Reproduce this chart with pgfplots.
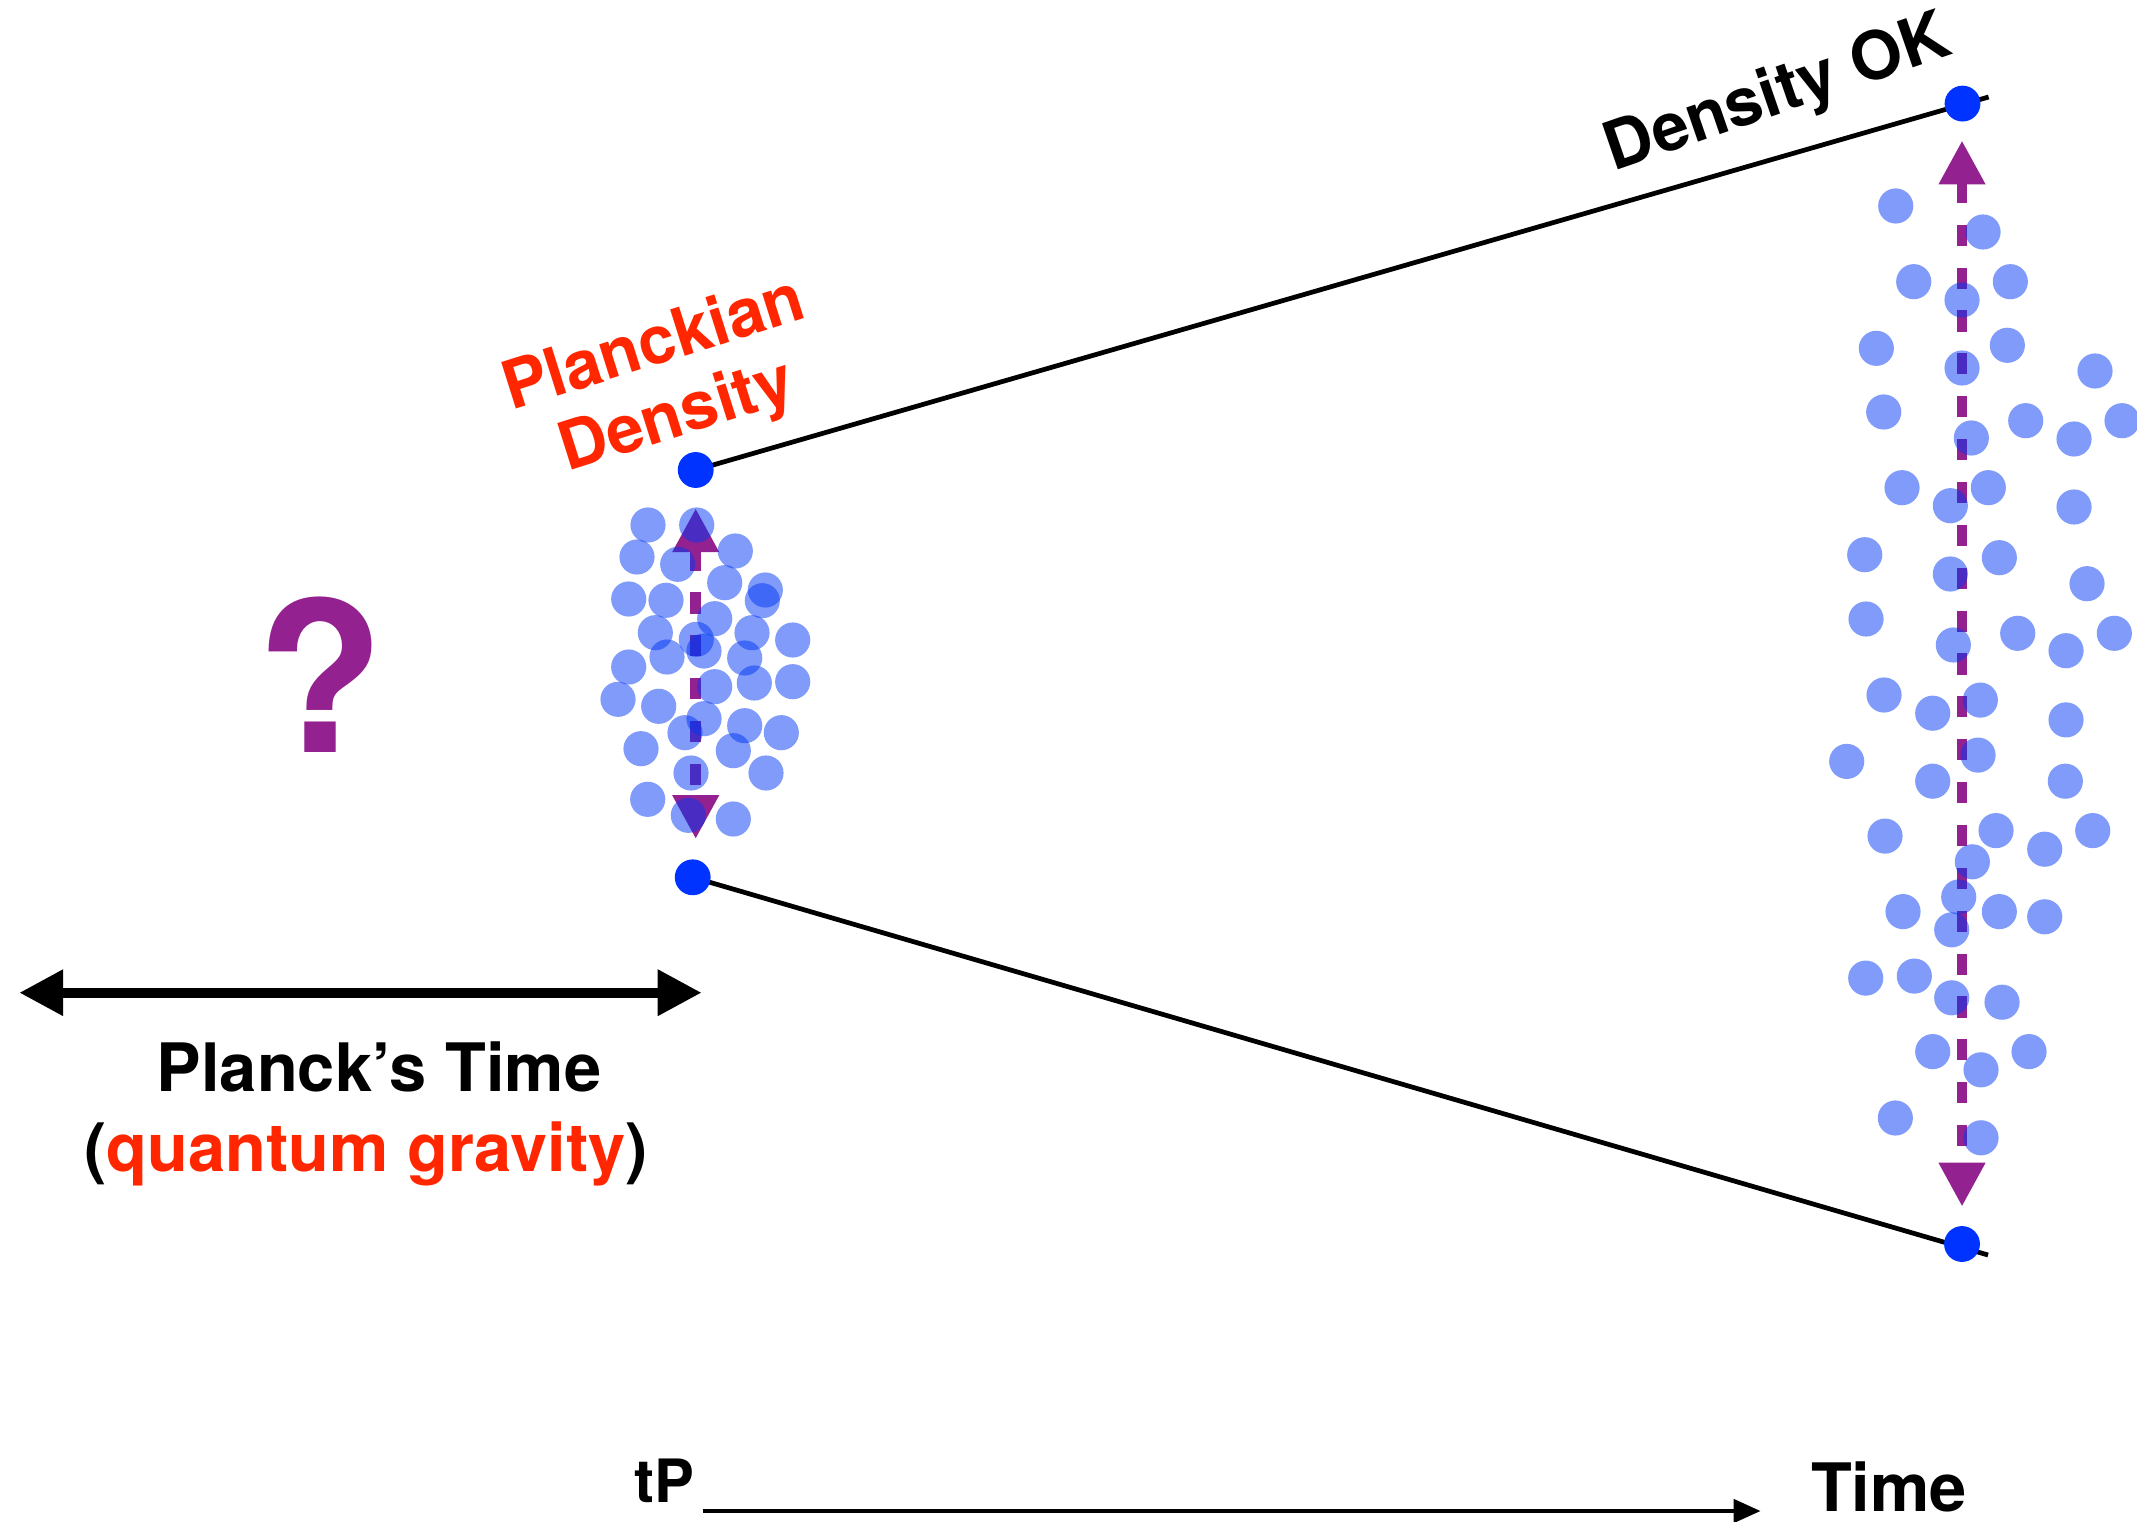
\documentclass[border=0pt]{standalone}
\usepackage{pgfplots}
\pgfplotsset{compat=1.18}
\usepackage{pgfplotstable}
\usepackage{fontspec}
\setmainfont{TeX Gyre Heros}
\usetikzlibrary{arrows.meta}
\definecolor{dotblue}{RGB}{0,51,255}
\definecolor{lightblue}{RGB}{1,55,245}
\definecolor{purp}{RGB}{147,33,143}
\definecolor{redt}{RGB}{255,38,0}

\pgfplotstableread{
x y
648 525
696.7 525
637 557
677.7 564.3
735.3 551
724.7 582.7
765.3 590
762.3 600.7
628.7 599
666 600.3
714.7 618.7
655.3 632.7
696.3 639.3
752 632.7
792.7 640
704 651
667 657
744.7 658
628.7 667
714.7 686.7
754.3 683
792.7 681.7
618 699.3
658.7 706.3
704 718.7
685 732.7
744.7 725.7
781.3 732.7
641 748.7
733.3 750.7
691 773
766 773
647.7 799.3
688.3 815.3
733.3 819
}\smallcluster

\pgfplotstableread{
x y
1895.7 206
1983 232
1913.7 281.7
2010.3 281.7
1962 300
1876.3 348.3
2007.3 345.3
1962 368
2095 371
1883.7 412
2025.7 420.7
1971.3 438
2074 439
2122 420.7
1902 487.7
1988.3 487.7
1950.3 505.7
2074 507
1864.7 554.7
1999.3 557.7
1950.3 574
2087 583.7
1866 619
1953.3 645
2017.7 633.3
2066 650.7
2114.3 633.3
1884 695
1932.7 713.2
1980.3 700.1
2066 719.9
1846.7 761.4
1978 755.1
1932.7 781.2
2065.3 781.2
1885 836.1
1996 830.6
2044.7 849.2
2092.7 830.6
1972.3 861.8
1958.7 897
1903 911.6
1999.3 911.6
2044.7 916.8
1951.7 929.8
1865.7 978.1
1914.3 976.1
1951.7 997.8
2002 1002.2
1932.7 1051.6
2029 1051.6
1981 1069.8
1895.3 1118
1981 1137.8
}\largecluster

\pgfplotstableread{
x y
695.7 470
692.7 877.3
1962.5 103.6
1962 1244
}\bigdots

\begin{document}
\begin{tikzpicture}
\begin{axis}[
  width=21.37cm, height=15.22cm, scale only axis,
  xmin=0, xmax=2137, ymin=0, ymax=1522, y dir=reverse,
  hide axis, clip=true, clip marker paths=true,
]
\path (axis cs:0,0) rectangle (axis cs:2137,1522);
% cone lines
\addplot[black, line width=1.35pt] coordinates {(695.7,470) (1988.6,97)};
\addplot[black, line width=1.35pt] coordinates {(692.7,877.3) (1988,1255)};
% purple dashed arrows (under dots)
\addplot[purp, line width=3pt, dash pattern=on 6pt off 6.2pt,
  {Triangle[length=12.5pt,width=12.5pt]}-{Triangle[length=12.5pt,width=12.5pt]}]
  coordinates {(695.7,508.3) (695.7,839)};
\addplot[purp, line width=3pt, dash pattern=on 6pt off 6.2pt,
  {Triangle[length=12.5pt,width=12.5pt]}-{Triangle[length=12.5pt,width=12.5pt]}]
  coordinates {(1962,140.5) (1962,1206.6)};
% light dots
\addplot[only marks, mark=*, mark size=5pt, color=lightblue,
  mark options={draw opacity=0, fill=lightblue, fill opacity=0.5}] table {\smallcluster};
\addplot[only marks, mark=*, mark size=5pt, color=lightblue,
  mark options={draw opacity=0, fill=lightblue, fill opacity=0.5}] table {\largecluster};
% big blue dots
\addplot[only marks, mark=*, mark size=5.1pt, color=dotblue,
  mark options={draw opacity=0, fill=dotblue}] table {\bigdots};
% black double arrow (Planck's time)
\addplot[black, line width=2.85pt,
  {Triangle[length=12.5pt,width=12.5pt]}-{Triangle[length=12.5pt,width=12.5pt]}]
  coordinates {(19.3,992.7) (701.6,992.7)};
% time axis arrow
\addplot[black, line width=1.4pt, -{Triangle[length=7.7pt,width=6.5pt]}]
  coordinates {(702.7,1511) (1760.7,1511)};
% texts
\node[anchor=base, text=purp, font=\fontsize{59.5}{64}\selectfont\bfseries] at (axis cs:320,752.8) {?};
\node[anchor=base, font=\fontsize{19}{21.5}\selectfont\bfseries] at (axis cs:379,1091) {Planck’s Time};
\node[anchor=base, font=\fontsize{19}{21.5}\selectfont\bfseries] at (axis cs:366,1171) {(\textcolor{redt}{quantum gravity})};
\node[anchor=center, rotate=17.5, text=redt, align=center, font=\fontsize{19}{21.3}\selectfont\bfseries] at (axis cs:666,383) {Planckian\\Density};
\node[anchor=center, rotate=19, font=\fontsize{19}{21.5}\selectfont\bfseries] at (axis cs:1778,96) {Density OK};
\node[anchor=base, font=\fontsize{17}{20}\selectfont\bfseries] at (axis cs:664.8,1502) {tP};
\node[anchor=base, font=\fontsize{19}{21.5}\selectfont\bfseries] at (axis cs:1889,1511) {Time};
\end{axis}
\end{tikzpicture}
\end{document}
